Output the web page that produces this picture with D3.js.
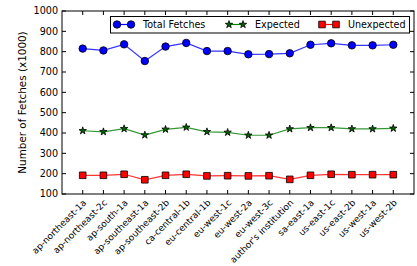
<!DOCTYPE html>
<html>
<head>
<meta charset="utf-8">
<script src="https://cdn.jsdelivr.net/npm/d3@7"></script>
<style>
body{margin:0;background:#fff;}
text{font-family:"DejaVu Sans",sans-serif;fill:#000;}
</style>
</head>
<body>
<script>
// data
var locations = ["ap-northeast-1a","ap-northeast-2c","ap-south-1a","ap-southeast-1a","ap-southeast-2b",
	"ca-central-1b","eu-central-1b","eu-west-1c","eu-west-2a","eu-west-3c","author's institution",
	"sa-east-1a","us-east-1c","us-east-2b","us-west-1a","us-west-2b"];
var totalFetches = [815,806,836,754,825,843,803,803,787,788,792,834,841,831,831,834];
var expected = [411,406,421,390,418,428,406,403,389,389,420,426,426,420,420,423];
var unexpected = [192,192,197,170,192,197,189,190,189,190,172,192,197,195,195,195];
var yTicks = [100,200,300,400,500,600,700,800,900,1000];

var svgwidth = 417, svgheight = 266;
var plot = {left: 62, right: 414, top: 11, bottom: 194};

var svg = d3.select("body").append("svg")
	.attr("width", svgwidth)
	.attr("height", svgheight);

var x = d3.scaleLinear().domain([-1, 16]).range([plot.left, plot.right]);
var y = d3.scaleLinear().domain([100, 1000]).range([plot.bottom, plot.top]);

// ticks pointing inward, on all four sides
var g = svg.append("g");
yTicks.forEach(function(t){
	g.append("line").attr("x1", plot.left).attr("x2", plot.left + 4)
		.attr("y1", y(t)).attr("y2", y(t)).attr("stroke", "#000");
	g.append("line").attr("x1", plot.right).attr("x2", plot.right - 4)
		.attr("y1", y(t)).attr("y2", y(t)).attr("stroke", "#000");
	g.append("text").attr("x", plot.left - 4).attr("y", y(t))
		.attr("text-anchor", "end").attr("dy", "0.35em")
		.style("font-size", "9.6px").text(t);
});
locations.forEach(function(d, i){
	g.append("line").attr("x1", x(i)).attr("x2", x(i))
		.attr("y1", plot.bottom).attr("y2", plot.bottom - 4).attr("stroke", "#000");
	g.append("line").attr("x1", x(i)).attr("x2", x(i))
		.attr("y1", plot.top).attr("y2", plot.top + 4).attr("stroke", "#000");
	g.append("text")
		.attr("transform", "translate(" + (x(i) + 2) + "," + (plot.bottom + 7) + ") rotate(-45)")
		.attr("text-anchor", "end").attr("dy", "0.35em")
		.style("font-size", "9px").text(d);
});

svg.append("text")
	.attr("transform", "translate(22," + ((plot.top + plot.bottom) / 2) + ") rotate(-90)")
	.attr("text-anchor", "middle").attr("dy", "0.35em")
	.style("font-size", "10.4px").text("Number of Fetches (x1000)");

var series = [
	{name: "Total Fetches", values: totalFetches, color: "#0000ff", fill: "#0000ff", symbol: d3.symbolCircle, size: 44},
	{name: "Expected", values: expected, color: "#008000", fill: "#006400", symbol: d3.symbolStar, size: 17},
	{name: "Unexpected", values: unexpected, color: "#ff0000", fill: "#ff0000", symbol: d3.symbolSquare, size: 44}
];

var line = d3.line().x(function(d, i){ return x(i); }).y(function(d){ return y(d); });

series.forEach(function(s){
	svg.append("path").datum(s.values)
		.attr("d", line).attr("fill", "none")
		.attr("stroke", s.color).attr("stroke-width", 1.2).attr("stroke-opacity", 0.8);
	svg.selectAll(null).data(s.values).enter().append("path")
		.attr("d", d3.symbol().type(s.symbol).size(s.size))
		.attr("transform", function(d, i){ return "translate(" + x(i) + "," + y(d) + ")"; })
		.attr("fill", s.fill).attr("stroke", "#000").attr("stroke-width", 0.8);
});

// frame
svg.append("rect")
	.attr("x", plot.left).attr("y", plot.top)
	.attr("width", plot.right - plot.left).attr("height", plot.bottom - plot.top)
	.attr("fill", "none").attr("stroke", "#000").attr("stroke-width", 1);

// legend
var legend = svg.append("g");
legend.append("rect")
	.attr("x", 110.5).attr("y", 16.5).attr("width", 299).attr("height", 16.5)
	.attr("fill", "#fff").attr("stroke", "#000").attr("stroke-width", 1);
var legX = [117, 229, 322];
series.forEach(function(s, i){
	var x0 = legX[i], x1 = legX[i] + 14, ly = 24.5;
	legend.append("line").attr("x1", x0).attr("x2", x1).attr("y1", ly).attr("y2", ly)
		.attr("stroke", s.color).attr("stroke-width", 1.2);
	[x0, x1].forEach(function(px){
		legend.append("path")
			.attr("d", d3.symbol().type(s.symbol).size(s.size))
			.attr("transform", "translate(" + px + "," + ly + ")")
			.attr("fill", s.fill).attr("stroke", "#000").attr("stroke-width", 0.8);
	});
	legend.append("text").attr("x", x1 + 12).attr("y", ly).attr("dy", "0.35em")
		.style("font-size", "9.6px").text(s.name);
});
</script>
</body>
</html>
